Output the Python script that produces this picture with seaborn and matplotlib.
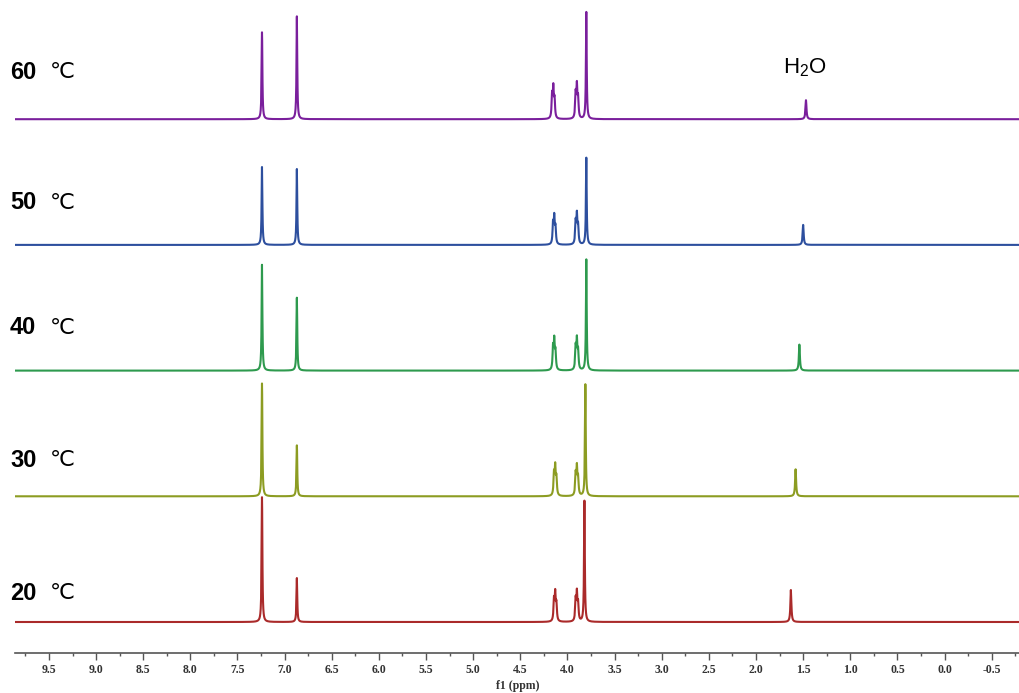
import numpy as np
import pandas as pd
import matplotlib
matplotlib.use('Agg')
import matplotlib.pyplot as plt
import seaborn as sns

# Spectra from top to bottom
temps = ['60', '50', '40', '30', '20']
colors = ['#7a1f9c', '#2d4f9e', '#2e9a4e', '#8c9c22', '#aa2a2a']

# Peak positions (ppm)
ppm_arom1 = [7.24, 7.24, 7.24, 7.24, 7.24]
ppm_arom2 = [6.87, 6.87, 6.87, 6.87, 6.87]
ppm_ch2a = [4.15, 4.14, 4.14, 4.13, 4.13]
ppm_ch2b = [3.90, 3.90, 3.90, 3.90, 3.90]
ppm_ome = [3.80, 3.80, 3.80, 3.81, 3.82]
ppm_water = [1.47, 1.50, 1.54, 1.58, 1.63]

# Peak heights (arbitrary units)
h_arom1 = [87, 78, 106, 113, 125]
h_arom2 = [103, 76, 73, 51, 44]
h_ch2a = [36, 32, 35, 34, 33]
h_ch2b = [38, 34, 35, 33, 33]
h_ome = [107, 87, 111, 112, 121]
h_water = [19, 20, 26, 27, 32]

tick_vals = [9.5, 9.0, 8.5, 8.0, 7.5, 7.0, 6.5, 6.0, 5.5, 5.0, 4.5,
             4.0, 3.5, 3.0, 2.5, 2.0, 1.5, 1.0, 0.5, 0.0, -0.5]

# layout
spacing = 125.7
base0 = 31
label_lift = [47, 42, 43, 36, 29]
hwhm = 0.0048
xgrid = np.linspace(-0.8, 9.86, 24000)


def lorentz(x, c, w):
    return w ** 2 / ((x - c) ** 2 + w ** 2)


def multiplet(x, c, n):
    # n lines split by ~0.013 ppm, normalised to max 1
    j = 0.013
    offs = (np.arange(n) - (n - 1) / 2) * j
    wts = [0.8, 1.3, 1.0] if n == 3 else [1] * n
    y = sum(wt * lorentz(x, c + o, hwhm * 1.25) for wt, o in zip(wts, offs))
    return y / y.max()


frames = []
for i, t in enumerate(temps):
    y = (h_arom1[i] * lorentz(xgrid, ppm_arom1[i], hwhm)
         + h_arom2[i] * lorentz(xgrid, ppm_arom2[i], hwhm)
         + h_ch2a[i] * multiplet(xgrid, ppm_ch2a[i], 3)
         + h_ch2b[i] * multiplet(xgrid, ppm_ch2b[i], 3)
         + h_ome[i] * lorentz(xgrid, ppm_ome[i], hwhm)
         + h_water[i] * lorentz(xgrid, ppm_water[i], hwhm * 1.3))
    offset = base0 + spacing * (len(temps) - 1 - i)
    frames.append(pd.DataFrame({'ppm': xgrid, 'intensity': y + offset, 'temp': t}))
df = pd.concat(frames, ignore_index=True)

sns.set_style('white')
plt.rcParams['font.family'] = ['Liberation Sans', 'DejaVu Sans']

fig = plt.figure(figsize=(10.2, 6.93), dpi=100)
ax = fig.add_axes([15 / 1020, 1 - 653 / 693, 1 - 15 / 1020, 653 / 693])

sns.lineplot(data=df, x='ppm', y='intensity', hue='temp', palette=dict(zip(temps, colors)),
             estimator=None, sort=False, linewidth=1.5, legend=False, ax=ax)

ax.set_xlim(9.86, -0.8)
ax.set_ylim(0, 653)
ax.set_yticks([])
ax.set_ylabel('')
ax.set_xticks(tick_vals)
ax.set_xticklabels([f'{v:.1f}' for v in tick_vals], fontfamily='Liberation Serif',
                   fontweight='bold', fontsize=8.5, color='#333333')
ax.set_xticks(np.arange(-0.75, 9.8, 0.25), minor=True)
ax.tick_params(axis='x', which='major', direction='out', length=5, width=1,
               color='#555555', pad=3, bottom=True)
ax.tick_params(axis='x', which='minor', direction='out', length=2.5, width=1,
               color='#555555', bottom=True)
ax.set_xlabel('f1 (ppm)', fontfamily='Liberation Serif', fontweight='bold',
              fontsize=8.5, labelpad=2.5, color='#333333')
for s in ['top', 'left', 'right']:
    ax.spines[s].set_visible(False)
ax.spines['bottom'].set_color('#555555')
ax.spines['bottom'].set_linewidth(1.2)

# temperature labels
for i, t in enumerate(temps):
    offset = base0 + spacing * (len(temps) - 1 - i)
    ty = offset + label_lift[i]
    fig.text(10 / 1020, ty / 693 + (693 - 653) / 693, t, fontsize=17, fontweight='bold',
             va='center', ha='left', color='black',
             family=['Liberation Sans', 'DejaVu Sans'])
    fig.text(50 / 1020, ty / 693 + (693 - 653) / 693, '℃', fontsize=16,
             va='center', ha='left', color='black', family=['DejaVu Sans'])

ax.text(1.48, 585, r'H$_\mathregular{2}$O', fontsize=16, ha='center', va='center',
        color='black', family=['Liberation Sans', 'DejaVu Sans'])

fig.savefig('out.png', dpi=100)
